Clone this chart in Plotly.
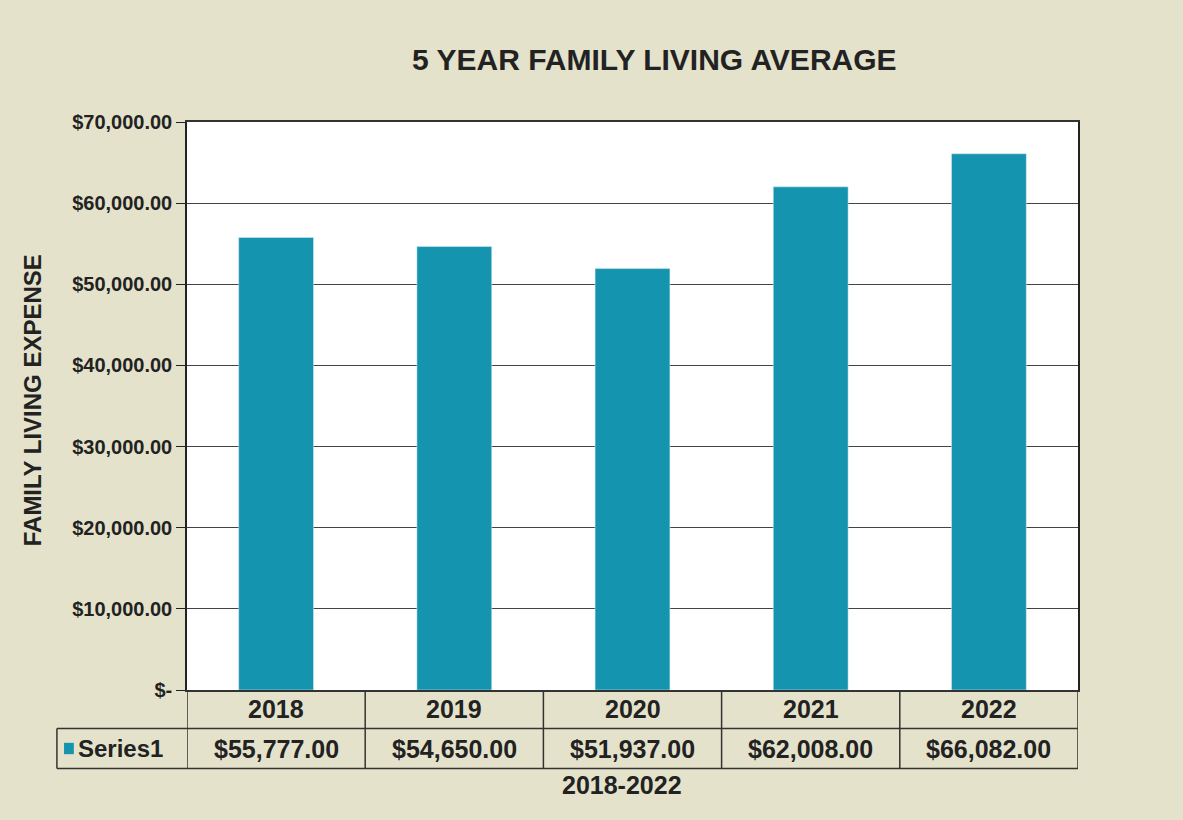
import plotly.graph_objects as go

years = ["2018", "2019", "2020", "2021", "2022"]
expenses = [55777, 54650, 51937, 62008, 66082]
y_ticks = [0, 10000, 20000, 30000, 40000, 50000, 60000, 70000]
y_tick_labels = ["$-", "$10,000.00", "$20,000.00", "$30,000.00", "$40,000.00",
                 "$50,000.00", "$60,000.00", "$70,000.00"]
series_name = "Series1"

bar_color = "#1494ae"
bg = "#e4e2cb"
font_family = "Liberation Sans, Arial, sans-serif"

fig = go.Figure(go.Bar(x=years, y=expenses, marker_color=bar_color, width=0.42, name=series_name))

fig.update_layout(
    width=1183, height=820,
    margin=dict(l=187, r=105, t=122, b=130),
    paper_bgcolor=bg, plot_bgcolor="white",
    showlegend=False,
    font=dict(family=font_family, color="#222", size=17),
)
fig.update_xaxes(type="category", range=[-0.5, 4.5], showticklabels=False,
                 showline=True, linecolor="#333", linewidth=1.5, mirror=True, showgrid=False)
fig.update_yaxes(range=[0, 70000], tickvals=y_ticks, ticktext=["<b>%s</b>" % t for t in y_tick_labels],
                 showline=True, linecolor="#222", linewidth=1.5, mirror=True,
                 gridcolor="#444", gridwidth=1.3, ticks="outside", ticklen=9, tickcolor="#222",
                 tickfont=dict(size=20))

# title and axis titles
fig.add_annotation(text="<b>5 YEAR FAMILY LIVING AVERAGE</b>", xref="paper", yref="paper",
                   x=0.525, y=1.11, xanchor="center", yanchor="middle", showarrow=False,
                   font=dict(size=30))
fig.add_annotation(text="<b>FAMILY LIVING EXPENSE</b>", xref="paper", yref="paper",
                   x=-0.174, y=0.51, xanchor="center", yanchor="middle", textangle=-90,
                   showarrow=False, font=dict(size=24))
fig.add_annotation(text="<b>2018-2022</b>", xref="paper", yref="paper",
                   x=0.488, y=-0.168, xanchor="center", yanchor="middle", showarrow=False,
                   font=dict(size=25))

# data table under the plot
row1_bottom = -0.068
row2_bottom = -0.138
row2_mid = (row1_bottom + row2_bottom) / 2
legend_left = -0.146
line = dict(color="#333", width=1.5)
for i in range(len(years) + 1):
    fig.add_shape(type="line", xref="x", yref="paper", x0=i - 0.5, x1=i - 0.5,
                  y0=0, y1=row2_bottom, line=line)
fig.add_shape(type="line", xref="paper", yref="paper", x0=legend_left, x1=1,
              y0=row1_bottom, y1=row1_bottom, line=line)
fig.add_shape(type="line", xref="paper", yref="paper", x0=legend_left, x1=1,
              y0=row2_bottom, y1=row2_bottom, line=line)
fig.add_shape(type="line", xref="paper", yref="paper", x0=legend_left, x1=legend_left,
              y0=row1_bottom, y1=row2_bottom, line=line)
fig.add_shape(type="rect", xref="paper", yref="paper", x0=legend_left + 0.008, x1=legend_left + 0.019,
              y0=row2_mid - 0.01, y1=row2_mid + 0.01, fillcolor=bar_color, line=dict(width=0))
fig.add_annotation(text="<b>%s</b>" % series_name, xref="paper", yref="paper",
                   x=legend_left + 0.021, xanchor="left", y=row2_mid, yanchor="middle",
                   showarrow=False, font=dict(size=24))

for i, (yr, v) in enumerate(zip(years, expenses)):
    fig.add_annotation(text="<b>%s</b>" % yr, xref="x", yref="paper", x=i, y=row1_bottom / 2,
                       xanchor="center", yanchor="middle", showarrow=False, font=dict(size=25))
    fig.add_annotation(text="<b>${:,.2f}</b>".format(v), xref="x", yref="paper", x=i, y=row2_mid,
                       xanchor="center", yanchor="middle", showarrow=False, font=dict(size=25))

fig.write_html("out.html", config={"displayModeBar": False},
               post_script="document.body.style.margin='0px';")
